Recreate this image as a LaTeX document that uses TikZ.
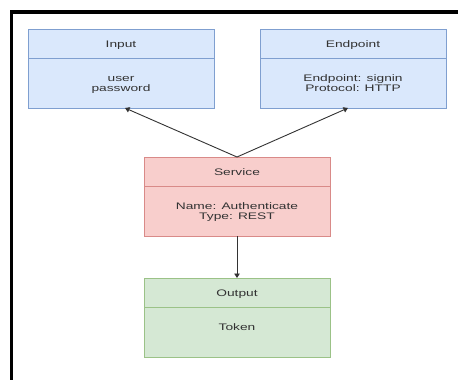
\documentclass[tikz,border=0pt]{standalone}
\usepackage{fontspec}
\setmainfont[FakeStretch=1.45]{Liberation Sans}
\usetikzlibrary{arrows.meta}

\definecolor{blueFill}{HTML}{DAE8FC}
\definecolor{blueLine}{HTML}{7F9FD0}
\definecolor{redFill}{HTML}{F8CECC}
\definecolor{redLine}{HTML}{D98A88}
\definecolor{greenFill}{HTML}{D5E8D4}
\definecolor{greenLine}{HTML}{9BC287}
\definecolor{inkGray}{HTML}{333333}

\begin{document}
\begin{tikzpicture}[x=1pt,y=-1pt,
  card/.style={draw=#1Line, fill=#1Fill, line width=0.8pt,
    minimum width=186pt, minimum height=79pt, inner sep=0pt,
    outer sep=0pt, anchor=north west},
  divider/.style={draw=#1Line, line width=0.8pt},
  title/.style={anchor=base, inner sep=0pt, text=inkGray,
    font=\fontsize{9.5}{10}\selectfont},
  body/.style={anchor=north, inner sep=0pt, text=inkGray, align=center,
    font=\fontsize{9.5}{10}\selectfont},
  link/.style={draw=inkGray, line width=0.9pt,
    -{Triangle[length=4.5pt,width=5.5pt]}}]

% canvas and the heavy frame along the top and left edges
\fill[white] (0,0) rectangle (458,380);
\useasboundingbox (0,0) rectangle (458,380);
\draw[black, line width=3.6pt] (11.5,384) -- (11.5,12) -- (462,12);

% Input
\node[card=blue] (in) at (28,29) {};
\draw[divider=blue] ([yshift=-29pt]in.north west) -- ([yshift=-29pt]in.north east);
\node[title] (inT) at ([yshift=-18pt]in.north) {Input};
\node[body] (inB) at ([yshift=-45pt]in.north) {\strut user\\\strut password};

% Endpoint
\node[card=blue] (ep) at (260,29) {};
\draw[divider=blue] ([yshift=-29pt]ep.north west) -- ([yshift=-29pt]ep.north east);
\node[title] (epT) at ([yshift=-18pt]ep.north) {Endpoint};
\node[body] (epB) at ([yshift=-45pt]ep.north) {\strut Endpoint: signin\\\strut Protocol: HTTP};

% Service
\node[card=red] (sv) at (144,157) {};
\draw[divider=red] ([yshift=-29pt]sv.north west) -- ([yshift=-29pt]sv.north east);
\node[title] (svT) at ([yshift=-18pt]sv.north) {Service};
\node[body] (svB) at ([yshift=-45pt]sv.north) {\strut Name: Authenticate\\\strut Type: REST};

% Output
\node[card=green] (out) at (144,278) {};
\draw[divider=green] ([yshift=-29pt]out.north west) -- ([yshift=-29pt]out.north east);
\node[title] (outT) at ([yshift=-18pt]out.north) {Output};
\node[body] (outB) at ([yshift=-45pt]out.north) {\strut Token};

% connectors
\draw[link] (sv.north) -- ([xshift=4pt]in.south);
\draw[link] (sv.north) -- ([xshift=-5pt]ep.south);
\draw[link] (sv.south) -- (out.north);
\end{tikzpicture}
\end{document}
